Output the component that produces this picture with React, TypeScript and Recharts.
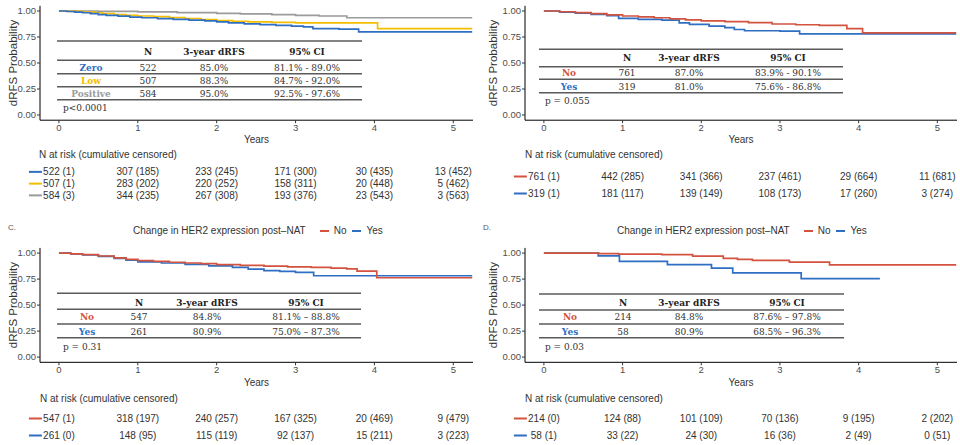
import { Label, Line, LineChart, Scatter, ScatterChart, XAxis, YAxis } from "recharts";

const SANS = "'Liberation Sans', Arial, sans-serif";
const SERIF = "'DejaVu Serif', serif";

const BLUE = "#2f6fc3";
const YELLOW = "#f3bd00";
const GRAY = "#9b9b9b";
const RED = "#d4533e";

const X_DOMAIN: [number, number] = [-0.24, 5.25];
const YEAR_TICKS = [0, 1, 2, 3, 4, 5];
const PROB_TICKS = [0, 0.25, 0.5, 0.75, 1];
const RISK_TIMES = [0, 1, 2, 3, 4, 5];

type Pt = [number, number];

// survival steps, [years, probability]
const zeroA: Pt[] = [
  [0, 1], [0.1, 0.995], [0.2, 0.99], [0.3, 0.983], [0.4, 0.975], [0.5, 0.966], [0.6, 0.958],
  [0.75, 0.95], [0.9, 0.942], [1.05, 0.935], [1.25, 0.927], [1.45, 0.92], [1.65, 0.912],
  [1.85, 0.905], [2.0, 0.895], [2.15, 0.885], [2.35, 0.877], [2.55, 0.869], [2.75, 0.862],
  [2.95, 0.855], [3.1, 0.848], [3.22, 0.83], [3.55, 0.826], [3.8, 0.8], [5.24, 0.8],
];
const lowA: Pt[] = [
  [0, 1], [0.15, 0.996], [0.3, 0.99], [0.45, 0.983], [0.55, 0.975], [0.7, 0.966], [0.85, 0.958],
  [1.0, 0.952], [1.2, 0.945], [1.4, 0.937], [1.6, 0.928], [1.8, 0.918], [2.0, 0.908], [2.2, 0.9],
  [2.4, 0.895], [2.7, 0.89], [3.0, 0.885], [4.04, 0.83], [5.24, 0.83],
];
const posA: Pt[] = [
  [0, 1], [0.5, 0.997], [1.0, 0.992], [1.5, 0.985], [2.0, 0.978], [2.3, 0.972], [2.7, 0.965],
  [3.0, 0.958], [3.3, 0.952], [3.65, 0.935], [5.24, 0.935],
];

const noB: Pt[] = [
  [0, 1], [0.2, 0.993], [0.4, 0.985], [0.6, 0.975], [0.8, 0.963], [1.0, 0.952], [1.2, 0.944],
  [1.4, 0.935], [1.6, 0.925], [1.8, 0.915], [2.0, 0.905], [2.3, 0.897], [2.6, 0.888], [2.9, 0.875],
  [3.2, 0.868], [3.5, 0.862], [3.85, 0.83], [4.05, 0.79], [5.24, 0.79],
];
const yesB: Pt[] = [
  [0, 1], [0.2, 0.99], [0.4, 0.98], [0.6, 0.968], [0.8, 0.955], [0.95, 0.93], [1.2, 0.92],
  [1.5, 0.912], [1.72, 0.885], [1.85, 0.872], [2.1, 0.855], [2.3, 0.84], [2.42, 0.822],
  [2.55, 0.81], [3.0, 0.806], [3.25, 0.78], [5.24, 0.78],
];

const noC: Pt[] = [
  [0, 1], [0.15, 0.993], [0.3, 0.985], [0.5, 0.972], [0.7, 0.955], [0.85, 0.94], [1.0, 0.928],
  [1.2, 0.92], [1.4, 0.912], [1.6, 0.905], [1.8, 0.898], [2.0, 0.89], [2.3, 0.882], [2.6, 0.875],
  [2.9, 0.868], [3.2, 0.862], [3.45, 0.855], [3.65, 0.848], [3.78, 0.826], [4.03, 0.763], [5.24, 0.763],
];
const yesC: Pt[] = [
  [0, 1], [0.15, 0.992], [0.3, 0.982], [0.5, 0.968], [0.7, 0.95], [0.85, 0.932], [1.0, 0.915],
  [1.3, 0.905], [1.6, 0.892], [1.9, 0.878], [2.2, 0.862], [2.4, 0.845], [2.6, 0.832], [2.8, 0.825],
  [3.0, 0.815], [3.23, 0.782], [5.24, 0.782],
];

const noD: Pt[] = [
  [0, 1], [0.7, 0.995], [0.95, 0.99], [1.5, 0.985], [1.89, 0.97], [2.28, 0.95], [2.46, 0.94],
  [2.65, 0.93], [3.12, 0.913], [3.63, 0.887], [5.24, 0.887],
];
const yesD: Pt[] = [
  [0, 1], [0.69, 0.974], [0.96, 0.92], [1.57, 0.89], [2.13, 0.855], [2.4, 0.81], [3.27, 0.755], [4.27, 0.755],
];

// summary tables
const TABLE_HEAD = ["N", "3-year dRFS", "95% CI"];

const groupsA = ["Zero", "Low", "Positive"];
const nA = ["522", "507", "584"];
const rateA = ["85.0%", "88.3%", "95.0%"];
const ciA = ["81.1% - 89.0%", "84.7% - 92.0%", "92.5% - 97.6%"];
const pA = "p<0.0001";

const groupsB = ["No", "Yes"];
const nB = ["761", "319"];
const rateB = ["87.0%", "81.0%"];
const ciB = ["83.9% - 90.1%", "75.6% - 86.8%"];
const pB = "p = 0.055";

const groupsC = ["No", "Yes"];
const nC = ["547", "261"];
const rateC = ["84.8%", "80.9%"];
const ciC = ["81.1% \u2013 88.8%", "75.0% \u2013 87.3%"];
const pC = "p = 0.31";

const groupsD = ["No", "Yes"];
const nD = ["214", "58"];
const rateD = ["84.8%", "80.9%"];
const ciD = ["87.6% \u2013 97.8%", "68.5% \u2013 96.3%"];
const pD = "p = 0.03";

// numbers at risk (cumulative censored)
const riskA = [
  ["522 (1)", "307 (185)", "233 (245)", "171 (300)", "30 (435)", "13 (452)"],
  ["507 (1)", "283 (202)", "220 (252)", "158 (311)", "20 (448)", "5 (462)"],
  ["584 (3)", "344 (235)", "267 (308)", "193 (376)", "23 (543)", "3 (563)"],
];
const riskB = [
  ["761 (1)", "442 (285)", "341 (366)", "237 (461)", "29 (664)", "11 (681)"],
  ["319 (1)", "181 (117)", "139 (149)", "108 (173)", "17 (260)", "3 (274)"],
];
const riskC = [
  ["547 (1)", "318 (197)", "240 (257)", "167 (325)", "20 (469)", "9 (479)"],
  ["261 (0)", "148 (95)", "115 (119)", "92 (137)", "15 (211)", "3 (223)"],
];
const riskD = [
  ["214 (0)", "124 (88)", "101 (109)", "70 (136)", "9 (195)", "2 (202)"],
  ["58 (1)", "33 (22)", "24 (30)", "16 (36)", "2 (49)", "0 (51)"],
];

const LEGEND_TITLE = "Change in HER2 expression post\u2013NAT";
const LEGEND_ITEMS = ["No", "Yes"];

const toRows = (pts: Pt[]) => pts.map(([t, s]) => ({ t, s }));

const YTitle = (props: any) => {
  const { viewBox } = props;
  const cx = viewBox.x + 13;
  const cy = viewBox.y + viewBox.height / 2;
  return (
    <text
      transform={`translate(${cx},${cy}) rotate(-90)`}
      textAnchor="middle"
      dominantBaseline="central"
      fontSize={11.5}
      fill="#333"
      fontFamily={SANS}
    >
      dRFS Probability
    </text>
  );
};

type Series = { pts: Pt[]; color: string };

const KMPlot = ({
  series,
  top,
  right,
  axisW,
  height,
}: {
  series: Series[];
  top: number;
  right: number;
  axisW: number;
  height: number;
}) => (
  <LineChart width={480} height={height} margin={{ top, right, left: 0, bottom: 0 }}>
    <XAxis
      type="number"
      dataKey="t"
      domain={X_DOMAIN}
      ticks={YEAR_TICKS}
      allowDataOverflow
      height={height - top - 114.4}
      tickSize={3}
      tickMargin={1}
      axisLine={{ stroke: "#000" }}
      tickLine={{ stroke: "#333" }}
      tick={{ fontSize: 9.5, fill: "#4d4d4d", fontFamily: SANS }}
      label={{
        value: "Years",
        position: "insideBottom",
        offset: 2,
        style: { fontSize: 10, fill: "#333", fontFamily: SANS },
      }}
    />
    <YAxis
      type="number"
      domain={[-0.05, 1.05]}
      ticks={PROB_TICKS}
      allowDataOverflow
      width={axisW}
      tickSize={3}
      tickMargin={1}
      tickFormatter={(v: number) => v.toFixed(2)}
      axisLine={{ stroke: "#000" }}
      tickLine={{ stroke: "#333" }}
      tick={{ fontSize: 9.5, fill: "#4d4d4d", fontFamily: SANS }}
    >
      <Label content={YTitle} />
    </YAxis>
    {series.map((s, i) => (
      <Line
        key={i}
        data={toRows(s.pts)}
        dataKey="s"
        type="stepAfter"
        stroke={s.color}
        strokeWidth={1.7}
        dot={false}
        isAnimationActive={false}
      />
    ))}
  </LineChart>
);

const RiskCell = (props: any) => {
  const { cx, cy, payload } = props;
  return (
    <g>
      {payload.first && (
        <line x1={cx - 30} x2={cx - 17} y1={cy} y2={cy} stroke={payload.color} strokeWidth={2} />
      )}
      <text
        x={cx}
        y={cy}
        textAnchor="middle"
        dominantBaseline="central"
        fontSize={10}
        fill="#333"
        fontFamily={SANS}
      >
        {payload.label}
      </text>
    </g>
  );
};

const RiskTable = ({
  rows,
  colors,
  left,
  right,
  top,
  rowH,
}: {
  rows: string[][];
  colors: string[];
  left: number;
  right: number;
  top: number;
  rowH: number;
}) => {
  const data = rows.flatMap((row, i) =>
    row.map((label, j) => ({ t: RISK_TIMES[j], r: i, label, color: colors[i], first: j === 0 }))
  );
  return (
    <div style={{ position: "absolute", left: 0, top }}>
      <ScatterChart
        width={480}
        height={rowH * rows.length}
        margin={{ top: 0, right, left, bottom: 0 }}
        style={{ overflow: "visible" }}
      >
        <XAxis type="number" dataKey="t" domain={X_DOMAIN} hide />
        <YAxis type="number" dataKey="r" domain={[-0.5, rows.length - 0.5]} reversed hide />
        <Scatter data={data} shape={(p: any) => <RiskCell {...p} />} isAnimationActive={false} />
      </ScatterChart>
    </div>
  );
};

type TableLayout = {
  x1: number;
  x2: number;
  lines: number[];
  headY: number;
  rowY: number[];
  cols: number[];
  pX: number;
  pY: number;
};

const SummaryTable = ({
  layout,
  groups,
  colors,
  ns,
  rates,
  cis,
  p,
}: {
  layout: TableLayout;
  groups: string[];
  colors: string[];
  ns: string[];
  rates: string[];
  cis: string[];
  p: string;
}) => {
  const txt = { fontFamily: SERIF, fontSize: 9, dominantBaseline: "central" as const };
  return (
    <svg
      width={480}
      height={150}
      style={{ position: "absolute", left: 0, top: 0, overflow: "visible", pointerEvents: "none" }}
    >
      {layout.lines.map((y, i) => (
        <line key={i} x1={layout.x1} x2={layout.x2} y1={y} y2={y} stroke="#5a5a5a" strokeWidth={1.5} />
      ))}
      {TABLE_HEAD.map((h, i) => (
        <text key={h} x={layout.cols[i + 1]} y={layout.headY} textAnchor="middle" fontWeight="bold" fill="#222" {...txt}>
          {h}
        </text>
      ))}
      {groups.map((g, i) => (
        <g key={g}>
          <text x={layout.cols[0]} y={layout.rowY[i]} textAnchor="middle" fontWeight="bold" fill={colors[i]} {...txt}>
            {g}
          </text>
          <text x={layout.cols[1]} y={layout.rowY[i]} textAnchor="middle" fill="#333" {...txt}>
            {ns[i]}
          </text>
          <text x={layout.cols[2]} y={layout.rowY[i]} textAnchor="middle" fill="#333" {...txt}>
            {rates[i]}
          </text>
          <text x={layout.cols[3]} y={layout.rowY[i]} textAnchor="middle" fill="#333" {...txt}>
            {cis[i]}
          </text>
        </g>
      ))}
      <text x={layout.pX} y={layout.pY} textAnchor="start" fill="#333" {...txt}>
        {p}
      </text>
    </svg>
  );
};

const RiskTitle = ({ x, y }: { x: number; y: number }) => (
  <div
    style={{
      position: "absolute",
      left: x,
      top: y - 7,
      lineHeight: "14px",
      fontSize: 10,
      fontFamily: SANS,
      color: "#333",
      whiteSpace: "nowrap",
    }}
  >
    N at risk (cumulative censored)
  </div>
);

const HerLegend = ({ left }: { left: number }) => (
  <div
    style={{
      position: "absolute",
      left,
      top: 224,
      lineHeight: "14px",
      fontSize: 10,
      fontFamily: SANS,
      color: "#333",
      whiteSpace: "nowrap",
      display: "flex",
      alignItems: "center",
    }}
  >
    <span>{LEGEND_TITLE}</span>
    {LEGEND_ITEMS.map((it, i) => (
      <span key={it} style={{ display: "flex", alignItems: "center" }}>
        <span
          style={{
            display: "inline-block",
            width: 9,
            height: 2,
            background: i === 0 ? RED : BLUE,
            margin: `0 5px 0 ${i === 0 ? 14 : 6}px`,
          }}
        />
        {it}
      </span>
    ))}
  </div>
);

const PanelTag = ({ x, text }: { x: number; text: string }) => (
  <div
    style={{
      position: "absolute",
      left: x,
      top: 222,
      lineHeight: "12px",
      fontSize: 8,
      fontFamily: SANS,
      color: "#555",
    }}
  >
    {text}
  </div>
);

const layoutA: TableLayout = {
  x1: 57, x2: 362, lines: [41, 60.3, 73.7, 86.7, 99.7], headY: 51.7,
  rowY: [67.5, 80.7, 94], cols: [91, 148, 214, 307], pX: 63, pY: 108.3,
};
const layoutB: TableLayout = {
  x1: 59, x2: 363, lines: [49.3, 66.7, 79.3, 92.7], headY: 58.3,
  rowY: [72.8, 86.5], cols: [89, 147, 209, 308], pX: 65, pY: 101,
};
const layoutC: TableLayout = {
  x1: 57, x2: 361, lines: [53.3, 69.3, 84, 97.7], headY: 62.7,
  rowY: [77.3, 91.5], cols: [87, 139, 207, 306], pX: 63, pY: 106.7,
};
const layoutD: TableLayout = {
  x1: 59, x2: 364, lines: [54, 70, 84, 97.7], headY: 63,
  rowY: [77.3, 91.5], cols: [90, 143, 209, 307], pX: 65, pY: 107,
};

const panel = (left: number, top: number) =>
  ({ position: "absolute", left, top, width: 480, height: 205 }) as const;

export default function App() {
  return (
    <div
      style={{
        position: "absolute",
        left: 0,
        top: 0,
        width: 960,
        height: 445,
        background: "#fff",
        overflow: "hidden",
      }}
    >
      {/* A */}
      <div style={panel(0, 0)}>
        <KMPlot
          series={[
            { pts: posA, color: GRAY },
            { pts: lowA, color: YELLOW },
            { pts: zeroA, color: BLUE },
          ]}
          top={5.8}
          right={7}
          axisW={40}
          height={145}
        />
        <SummaryTable layout={layoutA} groups={groupsA} colors={[BLUE, YELLOW, GRAY]} ns={nA} rates={rateA} cis={ciA} p={pA} />
        <RiskTitle x={39} y={155} />
        <RiskTable rows={riskA} colors={[BLUE, YELLOW, GRAY]} left={40} right={7} top={166.1} rowH={11.75} />
      </div>

      {/* B */}
      <div style={panel(480, 0)}>
        <KMPlot
          series={[
            { pts: yesB, color: BLUE },
            { pts: noB, color: RED },
          ]}
          top={5.8}
          right={3}
          axisW={45}
          height={145}
        />
        <SummaryTable layout={layoutB} groups={groupsB} colors={[RED, BLUE]} ns={nB} rates={rateB} cis={ciB} p={pB} />
        <RiskTitle x={45} y={155} />
        <RiskTable rows={riskB} colors={[RED, BLUE]} left={45} right={3} top={167.5} rowH={17} />
      </div>

      <PanelTag x={8} text="C." />
      <HerLegend left={133} />
      <PanelTag x={483} text="D." />
      <HerLegend left={617} />

      {/* C */}
      <div style={panel(0, 240)}>
        <KMPlot
          series={[
            { pts: yesC, color: BLUE },
            { pts: noC, color: RED },
          ]}
          top={7.9}
          right={7}
          axisW={40}
          height={148}
        />
        <SummaryTable layout={layoutC} groups={groupsC} colors={[RED, BLUE]} ns={nC} rates={rateC} cis={ciC} p={pC} />
        <RiskTitle x={40} y={159} />
        <RiskTable rows={riskC} colors={[RED, BLUE]} left={40} right={7} top={169.5} rowH={17} />
      </div>

      {/* D */}
      <div style={panel(480, 240)}>
        <KMPlot
          series={[
            { pts: yesD, color: BLUE },
            { pts: noD, color: RED },
          ]}
          top={7.9}
          right={3}
          axisW={45}
          height={148}
        />
        <SummaryTable layout={layoutD} groups={groupsD} colors={[RED, BLUE]} ns={nD} rates={rateD} cis={ciD} p={pD} />
        <RiskTitle x={45} y={159} />
        <RiskTable rows={riskD} colors={[RED, BLUE]} left={45} right={3} top={169.5} rowH={17} />
      </div>
    </div>
  );
}
